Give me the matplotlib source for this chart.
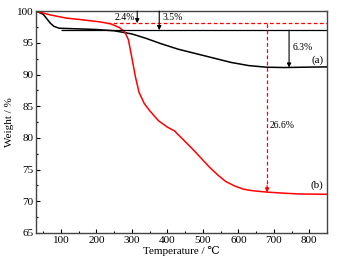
import numpy as np
import matplotlib.pyplot as plt
from matplotlib.ticker import MultipleLocator

plt.rcParams['font.family'] = ['Liberation Serif', 'DejaVu Serif']
plt.rcParams['font.size'] = 8

# sample (a), black
temp_a = [30, 50, 60, 70, 80, 95, 150, 200, 250, 300, 340, 380, 430, 480, 530,
          580, 630, 680, 730, 780, 850]
weight_a = [100.0, 99.5, 98.8, 98.1, 97.6, 97.3, 97.2, 97.1, 96.9, 96.4, 95.7,
            94.9, 94.0, 93.3, 92.6, 91.9, 91.4, 91.15, 91.1, 91.15, 91.2]

# sample (b), red
temp_b = [30, 50, 70, 115, 150, 210, 240, 265, 280, 290, 300, 310, 320, 335,
          350, 375, 400, 420, 445, 470, 490, 520, 545, 565, 590, 615, 635, 660,
          680, 720, 770, 850]
weight_b = [100.0, 99.7, 99.4, 98.9, 98.7, 98.3, 98.0, 97.4, 96.7, 95.5, 92.6,
            89.6, 87.2, 85.4, 84.3, 82.7, 81.7, 81.1, 79.7, 78.3, 77.1, 75.3,
            74.0, 73.1, 72.4, 71.9, 71.7, 71.55, 71.45, 71.3, 71.15, 71.1]

fig = plt.figure(figsize=(3.41, 2.65), dpi=100)
ax = fig.add_axes([0.106, 0.121, 0.853, 0.837])

ax.plot(temp_a, weight_a, color='black', lw=1.1)
ax.plot(temp_b, weight_b, color='red', lw=1.1)

# reference levels
ax.hlines(97.0, 100, 850, color='black', lw=0.9)
ax.hlines(98.1, 230, 850, color='red', lw=0.9, linestyles=(0, (3, 2)))
ax.vlines(681, 71.8, 98.1, color='red', lw=0.9, linestyles=(0, (3, 2)))

arr = dict(arrowstyle='-|>', color='black', lw=0.8, mutation_scale=6,
           shrinkA=0, shrinkB=0)
ax.annotate('', xy=(315, 98.1), xytext=(315, 100), arrowprops=arr)
ax.annotate('', xy=(377, 97.0), xytext=(377, 100), arrowprops=arr)
ax.annotate('', xy=(743, 91.1), xytext=(743, 97.0), arrowprops=arr)
ax.annotate('', xy=(681, 71.4), xytext=(681, 72.5),
            arrowprops=dict(arrowstyle='-|>', color='red', lw=0.8,
                            mutation_scale=6, shrinkA=0, shrinkB=0))

ax.text(308, 99.05, '2.4%', ha='right', va='center', fontsize=7)
ax.text(385, 99.05, '3.5%', ha='left', va='center', fontsize=7)
ax.text(752, 94.3, '6.3%', ha='left', va='center', fontsize=7)
ax.text(688, 82.0, '26.6%', ha='left', va='center', fontsize=7)
ax.text(822, 92.3, '(a)', ha='center', va='center', fontsize=8)
ax.text(822, 72.6, '(b)', ha='center', va='center', fontsize=8)

ax.set_xlim(30, 850)
ax.set_ylim(65, 100)
ax.xaxis.set_major_locator(MultipleLocator(100))
ax.xaxis.set_minor_locator(MultipleLocator(50))
ax.yaxis.set_major_locator(MultipleLocator(5))
ax.yaxis.set_minor_locator(MultipleLocator(2.5))
ax.tick_params(which='both', direction='in', top=False, right=False)
ax.tick_params(which='major', length=3, width=0.8, pad=2)
ax.tick_params(which='minor', length=1.5, width=0.8)
for s in ax.spines.values():
    s.set_color('#444444')
    s.set_linewidth(1.0)

ax.set_xlabel('Temperature / ℃', labelpad=1)
ax.set_ylabel('Weight / %', labelpad=2)

fig.savefig('out.png', dpi=100)
